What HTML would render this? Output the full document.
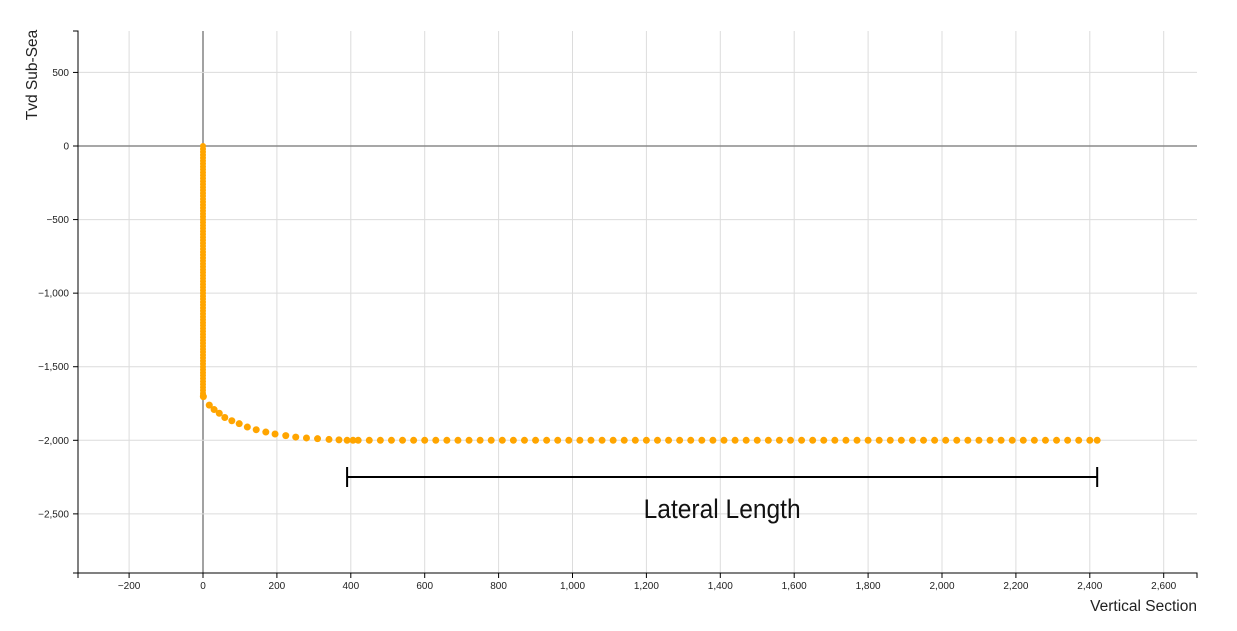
<!DOCTYPE html>
<html><head><meta charset="utf-8"><style>
html,body{margin:0;padding:0;background:#fff;}
svg{display:block;font-family:"Liberation Sans",Arial,sans-serif;}
</style></head><body>
<svg id="chart" width="1237" height="631" viewBox="0 0 1237 631" xmlns="http://www.w3.org/2000/svg">
<g id="grid"></g>
<g id="axes"></g>
<g id="marks"></g>
<g id="annot"></g>
<text x="1197" y="611" text-anchor="end" font-size="15.5" fill="#222">Vertical Section</text>
<text transform="translate(37,75) rotate(-90)" text-anchor="middle" font-size="15.5" fill="#222">Tvd Sub-Sea</text>
</svg>
<script>
const xTicks = [-200,0,200,400,600,800,1000,1200,1400,1600,1800,2000,2200,2400,2600];
const yTicks = [500,0,-500,-1000,-1500,-2000,-2500];
const vertY = [0,-20,-40,-60,-80,-100,-120,-140,-160,-180,-200,-220,-240,-260,-280,-300,-320,-340,-360,-380,-400,-420,-440,-460,-480,-500,-520,-540,-560,-580,-600,-620,-640,-660,-680,-700,-720,-740,-760,-780,-800,-820,-840,-860,-880,-900,-920,-940,-960,-980,-1000,-1020,-1040,-1060,-1080,-1100,-1120,-1140,-1160,-1180,-1200,-1220,-1240,-1260,-1280,-1300,-1320,-1340,-1360,-1380,-1400,-1420,-1440,-1460,-1480,-1500,-1520,-1540,-1560,-1580,-1600,-1620,-1640,-1660,-1680,-1695];
const vertX = vertY.map(() => 0);
const curveX = [1,17,30,44,59,78,98,120,144,170,195,224,251,280,310,341,368,390];
const curveY = [-1703,-1761,-1791,-1816,-1845,-1867,-1887,-1910,-1928,-1944,-1957,-1968,-1978,-1984,-1989,-1994,-1997,-2000];
const latX = [406,420,450,480,510,540,570,600,630,660,690,720,750,780,810,840,870,900,930,960,990,1020,1050,1080,1110,1140,1170,1200,1230,1260,1290,1320,1350,1380,1410,1440,1470,1500,1530,1560,1590,1620,1650,1680,1710,1740,1770,1800,1830,1860,1890,1920,1950,1980,2010,2040,2070,2100,2130,2160,2190,2220,2250,2280,2310,2340,2370,2400,2420];
const latY = latX.map(() => -2000);
const lateralRange = [390, 2420];
const lateralLabel = "Lateral Length";

const NS = "http://www.w3.org/2000/svg";
const L = 78, R = 1197, T = 31, B = 573;
const sx = v => 203 + v * 0.3695;
const sy = v => 146 - v * 0.14715;
function mk(tag, attrs, parent) {
  const e = document.createElementNS(NS, tag);
  for (const k in attrs) e.setAttribute(k, attrs[k]);
  parent.appendChild(e);
  return e;
}
const fmt = v => (v < 0 ? "\u2212" : "") + Math.abs(v).toLocaleString("en-US");
const grid = document.getElementById("grid"), axes = document.getElementById("axes");
const marks = document.getElementById("marks"), annot = document.getElementById("annot");

xTicks.forEach(v => {
  const x = sx(v);
  const g = mk("line", {x1:x, x2:x, y1:T, y2:B, stroke: v === 0 ? "#8a8a8a" : "#dcdcdc", "stroke-width": v === 0 ? 1.6 : 1}, grid);
  
  
  const t = mk("line", {x1:x, x2:x, y1:B, y2:B + 5, stroke:"#000"}, axes);
  
  
  const lb = mk("text", {x:x, y:B + 16, "text-anchor":"middle", "font-size":10, fill:"#222"}, axes);
  lb.textContent = fmt(v);
  
  
});
yTicks.forEach(v => {
  const y = sy(v);
  const g = mk("line", {x1:L, x2:R, y1:y, y2:y, stroke: v === 0 ? "#8a8a8a" : "#dcdcdc", "stroke-width": v === 0 ? 1.6 : 1}, grid);
  
  
  const t = mk("line", {x1:L - 5, x2:L, y1:y, y2:y, stroke:"#000"}, axes);
  
  
  const lb = mk("text", {x:L - 9, y:y + 3.5, "text-anchor":"end", "font-size":10, fill:"#222"}, axes);
  lb.textContent = fmt(v);
  
  
});
const xa = mk("path", {d:`M${L},${B+5}V${B}H${R}V${B+5}`, fill:"none", stroke:"#000"}, axes);


const ya = mk("path", {d:`M${L-5},${T}H${L}V${B}H${L-5}`, fill:"none", stroke:"#000"}, axes);



function dots(xs, ys, r) {
  xs.forEach((v, i) => {
    const c = mk("circle", {cx:sx(v), cy:sy(ys[i]), r:r, fill:"#FFA500"}, marks);
    
    
  });
}
dots(vertX, vertY, 3); dots(curveX, curveY, 3.5); dots(latX, latY, 3.5);

const ax1 = sx(lateralRange[0]), ax2 = sx(lateralRange[1]), ay = 477;
const br = mk("path", {d:`M${ax1},${ay-10}V${ay+10}M${ax1},${ay}H${ax2}M${ax2},${ay-10}V${ay+10}`, fill:"none", stroke:"#000", "stroke-width":2}, annot);


const at = mk("text", {x:(ax1 + ax2) / 2, y:518, "text-anchor":"middle", "font-size":27, fill:"#111", textLength:157, lengthAdjust:"spacingAndGlyphs"}, annot);
at.textContent = lateralLabel;


</script>
</body></html>
